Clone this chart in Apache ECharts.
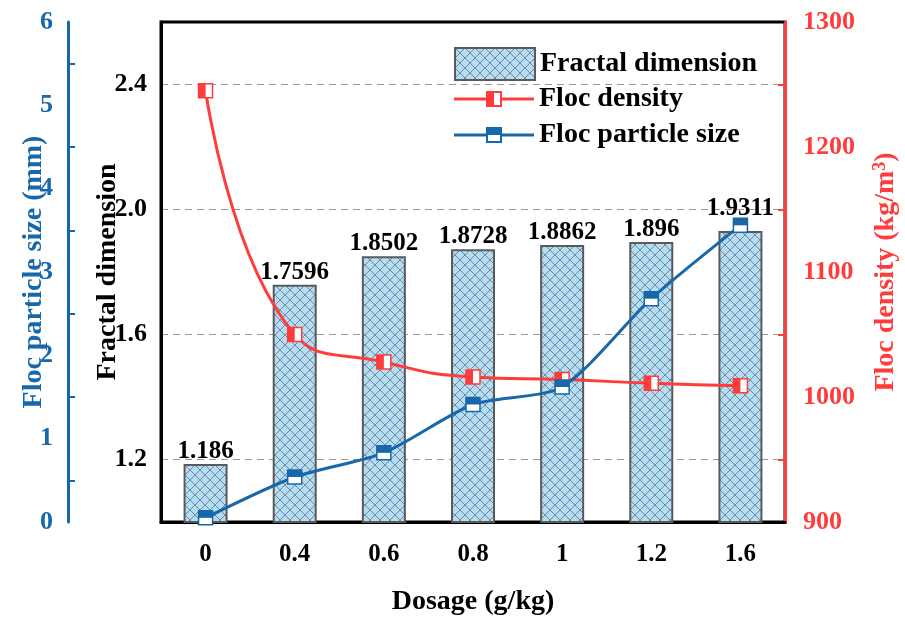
<!DOCTYPE html>
<html>
<head>
<meta charset="utf-8">
<script src="https://cdn.jsdelivr.net/npm/echarts@6/dist/echarts.min.js"></script>
<style>
  html, body { margin: 0; padding: 0; background: #fff; }
  #chart { width: 905px; height: 623px; }
</style>
</head>
<body>
<div id="chart"></div>
<script>
  // data
  var dosage = ['0', '0.4', '0.6', '0.8', '1', '1.2', '1.6'];
  var fractalDim = [1.186, 1.7596, 1.8502, 1.8728, 1.8862, 1.896, 1.9311];
  var flocDensity = [1245, 1050, 1028, 1016, 1014, 1011, 1009];
  var particleSize = [0.05, 0.54, 0.83, 1.41, 1.62, 2.68, 3.56];
  var fractalTicks = [1.2, 1.6, 2.0, 2.4];

  var RED = '#ff3b3b';
  var BLUE = '#1768aa';
  var FONT = 'Liberation Serif';

  // crosshatch fill for the bars
  function hatch() {
    var c = document.createElement('canvas');
    c.width = 10; c.height = 10;
    var g = c.getContext('2d');
    g.fillStyle = '#b3ddf5';
    g.fillRect(0, 0, 10, 10);
    g.strokeStyle = 'rgba(80,80,80,0.6)';
    g.lineWidth = 1;
    g.beginPath();
    g.moveTo(0, 0); g.lineTo(10, 10);
    g.moveTo(10, 0); g.lineTo(0, 10);
    g.stroke();
    return c;
  }
  var hatchFill = { image: hatch(), repeat: 'repeat' };

  // legend icons: line + square marker with one half filled
  var densityIcon = 'path://M0,6.5H33V9.5H0Z M47,6.5H80V9.5H47Z M32,0H48V16H32Z M34,2V14H46V2Z M32,0H40V16H32Z';
  var sizeIcon = 'path://M0,6.5H33V9.5H0Z M47,6.5H80V9.5H47Z M32,0H48V16H32Z M34,2V14H46V2Z M32,0H48V8H32Z';

  var numLabel = function (v) { return String(v); };
  var titleStyle = function (color) {
    return { fontFamily: FONT, fontWeight: 'bold', fontSize: 28, color: color };
  };

  var barData = fractalDim.map(function (v, i) {
    return i === fractalDim.length - 1 ? { value: v, label: { distance: 10 } } : v;
  });

  var chart = echarts.init(document.getElementById('chart'));
  var option = {
    animation: false,
    grid: {
      left: 161, right: 120, top: 22, bottom: 101,
      outerBoundsMode: 'none',
      containLabel: false,
      show: true, borderColor: '#000', borderWidth: 3, backgroundColor: 'transparent'
    },
    legend: [
      {
        data: [{ name: 'Fractal dimension', icon: 'rect' }],
        left: 449, top: 42,
        itemWidth: 80, itemHeight: 32, itemGap: 8,
        textStyle: { fontFamily: FONT, fontWeight: 'bold', fontSize: 28, color: '#000' }
      },
      {
        data: [
          { name: 'Floc density', icon: densityIcon, itemStyle: { color: RED, borderWidth: 0 } },
          { name: 'Floc particle size', icon: sizeIcon, itemStyle: { color: BLUE, borderWidth: 0 } }
        ],
        orient: 'vertical',
        left: 449, top: 80,
        itemWidth: 80, itemHeight: 16, itemGap: 8,
        textStyle: { fontFamily: FONT, fontWeight: 'bold', fontSize: 28, color: '#000' }
      }
    ],
    xAxis: [
      {
        type: 'category',
        data: dosage,
        name: 'Dosage (g/kg)',
        nameLocation: 'middle',
        nameGap: 66,
        nameMoveOverlap: false,
        nameTextStyle: titleStyle('#000'),
        axisLine: { lineStyle: { color: '#000', width: 3 } },
        axisTick: { alignWithLabel: true, inside: true, length: 10, lineStyle: { color: '#000', width: 2 } },
        axisLabel: { margin: 20, fontFamily: FONT, fontWeight: 'bold', fontSize: 25, color: '#000' }
      },
      {
        // short ticks between the categories
        type: 'category',
        data: dosage,
        position: 'bottom',
        axisLine: { show: false },
        axisTick: { inside: true, length: 5, lineStyle: { color: '#000', width: 2 } },
        axisLabel: { show: false }
      }
    ],
    yAxis: [
      {
        type: 'value',
        name: 'Fractal dimension',
        position: 'left',
        min: 1.0, max: 2.6,
        nameLocation: 'middle',
        nameGap: 39,
        nameMoveOverlap: false,
        nameTextStyle: titleStyle('#000'),
        axisLine: { show: true, lineStyle: { color: '#000', width: 3 } },
        axisTick: { inside: true, length: 11, customValues: fractalTicks, lineStyle: { color: '#000', width: 2 } },
        axisLabel: {
          customValues: fractalTicks, margin: 14,
          fontFamily: FONT, fontWeight: 'bold', fontSize: 26, color: '#000',
          formatter: function (v) { return v.toFixed(1); }
        },
        splitLine: { show: true, lineStyle: { color: '#999', width: 1.2, type: [7, 5] } }
      },
      {
        type: 'value',
        name: 'Floc particle size (mm)',
        position: 'left',
        offset: 93,
        min: 0, max: 6, interval: 1,
        nameLocation: 'middle',
        nameGap: 20,
        nameMoveOverlap: false,
        nameTextStyle: titleStyle(BLUE),
        axisLine: { show: true, lineStyle: { color: BLUE, width: 3 } },
        axisTick: { inside: true, length: 12, lineStyle: { color: BLUE, width: 2 } },
        minorTick: { show: true, splitNumber: 2, length: 7, lineStyle: { color: BLUE, width: 2 } },
        axisLabel: { margin: 15, fontFamily: FONT, fontWeight: 'bold', fontSize: 26, color: BLUE, formatter: numLabel },
        splitLine: { show: false }
      },
      {
        type: 'value',
        name: 'Floc density (kg/m{sup|3})',
        position: 'right',
        min: 900, max: 1300, interval: 100,
        nameLocation: 'middle',
        nameGap: 86,
        nameMoveOverlap: false,
        nameTextStyle: {
          fontFamily: FONT, fontWeight: 'bold', fontSize: 28, color: RED,
          rich: { sup: { fontFamily: FONT, fontWeight: 'bold', fontSize: 18, color: RED, padding: [0, 0, 12, 0] } }
        },
        axisLine: { show: true, lineStyle: { color: RED, width: 3 } },
        axisTick: { inside: true, length: 12, lineStyle: { color: RED, width: 2 } },
        minorTick: { show: true, splitNumber: 2, length: 7, lineStyle: { color: RED, width: 2 } },
        axisLabel: { margin: 18, fontFamily: FONT, fontWeight: 'bold', fontSize: 26, color: RED, formatter: numLabel },
        splitLine: { show: false }
      },
      {
        // minor ticks of the fractal dimension axis
        type: 'value',
        position: 'left',
        min: 1.0, max: 2.6, interval: 0.2,
        axisLine: { show: false },
        axisTick: { inside: true, length: 6, lineStyle: { color: '#000', width: 2 } },
        axisLabel: { show: false },
        splitLine: { show: false }
      }
    ],
    series: [
      {
        name: 'Fractal dimension',
        type: 'bar',
        yAxisIndex: 0,
        barWidth: 44,
        data: barData,
        itemStyle: { color: hatchFill, borderColor: '#5a5a5a', borderWidth: 2 },
        label: {
          show: true, position: 'top', distance: 0,
          fontFamily: FONT, fontWeight: 'bold', fontSize: 25, color: '#000'
        },
        z: 2
      },
      {
        name: 'Floc density',
        type: 'line',
        yAxisIndex: 2,
        smooth: 0.5,
        data: flocDensity,
        symbol: 'rect',
        symbolSize: 14,
        lineStyle: { color: RED, width: 3 },
        itemStyle: { color: '#fff', borderColor: RED, borderWidth: 1.5 },
        z: 3
      },
      {
        name: 'density-half',
        type: 'scatter',
        yAxisIndex: 2,
        data: flocDensity,
        symbol: 'rect',
        symbolSize: [7, 14],
        symbolOffset: [-3.5, 0],
        itemStyle: { color: RED, opacity: 1 },
        silent: true,
        z: 4
      },
      {
        name: 'Floc particle size',
        type: 'line',
        yAxisIndex: 1,
        smooth: 0.25,
        data: particleSize,
        symbol: 'rect',
        symbolSize: 14,
        lineStyle: { color: BLUE, width: 3 },
        itemStyle: { color: '#fff', borderColor: BLUE, borderWidth: 1.5 },
        z: 5
      },
      {
        name: 'size-half',
        type: 'scatter',
        yAxisIndex: 1,
        data: particleSize,
        symbol: 'rect',
        symbolSize: [14, 7],
        symbolOffset: [0, -3.5],
        itemStyle: { color: BLUE, opacity: 1 },
        silent: true,
        z: 6
      }
    ]
  };
  chart.setOption(option);
</script>
</body>
</html>
